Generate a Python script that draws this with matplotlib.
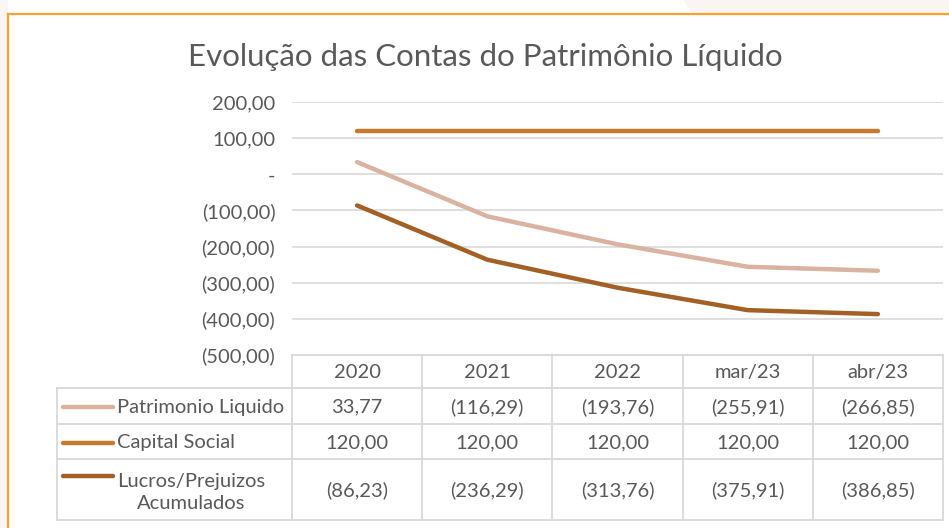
import matplotlib
matplotlib.use('Agg')
import matplotlib.pyplot as plt
from matplotlib.patches import Polygon, Rectangle

# dados do gráfico
periodos = ['2020', '2021', '2022', 'mar/23', 'abr/23']
patrimonio = [33.77, -116.29, -193.76, -255.91, -266.85]
capital = [120.00, 120.00, 120.00, 120.00, 120.00]
lucros = [-86.23, -236.29, -313.76, -375.91, -386.85]
nomes = ['Patrimonio Liquido', 'Capital Social', 'Lucros/Prejuizos\nAcumulados']
cores = ['#D9B3A0', '#C57A30', '#A25F26']
y_ticks = [200, 100, 0, -100, -200, -300, -400, -500]

texto = '#595959'
grade = '#D9D9D9'
plt.rcParams['font.family'] = ['Lato', 'DejaVu Sans']

W, H = 949, 528


def fmt(v):
    if v == 0:
        return '-'
    s = f'{abs(v):,.2f}'.replace(',', 'X').replace('.', ',').replace('X', '.')
    return f'({s})' if v < 0 else s


def fx(px):
    return px / W


def fy(py):
    return 1 - py / H


fig = plt.figure(figsize=(W / 100, H / 100), dpi=100)

# fundo claro fora da moldura
fig.patches.append(Rectangle((0, 0), fx(8), 1, transform=fig.transFigure,
                             facecolor='#FAF6F3', edgecolor='none'))
fig.patches.append(Polygon([(fx(684), 1), (1, 1), (1, fy(14)), (fx(692), fy(14))],
                           closed=True, transform=fig.transFigure,
                           facecolor='#F9F5F2', edgecolor='none'))
# moldura laranja
fig.lines.append(plt.Line2D([fx(8), 1], [fy(14), fy(14)], transform=fig.transFigure,
                            color='#F5A332', lw=1.6))
fig.lines.append(plt.Line2D([fx(8), fx(8)], [fy(14), 0], transform=fig.transFigure,
                            color='#F5A332', lw=1.6))

fig.text(fx(485), fy(57), 'Evolução das Contas do Patrimônio Líquido', ha='center',
         va='center', fontsize=22.5, color=texto)

# gráfico de linhas
x_left, x_right, y_top, y_bot = 292, 943, 102, 355
ax = fig.add_axes([fx(x_left), fy(y_bot), fx(x_right - x_left), (y_bot - y_top) / H])
x = list(range(len(periodos)))
for serie, cor in zip([patrimonio, capital, lucros], cores):
    ax.plot(x, serie, color=cor, lw=3.2, solid_capstyle='round', zorder=3)
ax.set_xlim(-0.5, len(periodos) - 0.5)
ax.set_ylim(-500, 200)
ax.set_yticks(y_ticks)
ax.set_yticklabels([fmt(v) for v in y_ticks])
ax.set_xticks([])
ax.tick_params(axis='y', length=0, pad=12, labelsize=14.5, labelcolor=texto)
ax.grid(axis='y', color=grade, lw=1.2)
ax.set_axisbelow(True)
for s in ax.spines.values():
    s.set_visible(False)
ax.patch.set_alpha(0)

# tabela de dados
t_left, t_bot = 57, 520
linhas = [355, 388, 424, 459, 520]
col_unit = (x_right - x_left) / len(periodos)
x0 = -0.5 - (x_left - t_left) / col_unit
tx = fig.add_axes([fx(t_left), fy(t_bot), fx(x_right - t_left), (t_bot - y_bot) / H])
tx.set_xlim(x0, len(periodos) - 0.5)
tx.set_ylim(t_bot, y_bot)
tx.axis('off')

lw_t = 1.3
tx.plot([-0.5, len(periodos) - 0.5], [linhas[0]] * 2, color=grade, lw=lw_t, clip_on=False)
for yl in linhas[1:]:
    tx.plot([x0, len(periodos) - 0.5], [yl] * 2, color=grade, lw=lw_t, clip_on=False)
tx.plot([x0, x0], [linhas[1], linhas[-1]], color=grade, lw=lw_t, clip_on=False)
for k in range(len(periodos) + 1):
    tx.plot([k - 0.5] * 2, [linhas[0], linhas[-1]], color=grade, lw=lw_t, clip_on=False)

fs = 14.5
for i, p in enumerate(periodos):
    tx.text(i, (linhas[0] + linhas[1]) / 2 + 1, p, ha='center', va='center', fontsize=fs, color=texto)

px_unit = 1 / col_unit
for r, (nome, serie, cor) in enumerate(zip(nomes, [patrimonio, capital, lucros], cores)):
    yc = (linhas[r + 1] + linhas[r + 2]) / 2 + 1
    y_leg = yc if r < 2 else linhas[r + 1] + 17
    tx.plot([x0 + 6 * px_unit, x0 + 56 * px_unit], [y_leg, y_leg], color=cor, lw=3.2,
            solid_capstyle='round', clip_on=False)
    tx.text(x0 + 60 * px_unit, yc + (2 if r == 2 else 0), nome, ha='left', va='center',
            fontsize=fs, color=texto, multialignment='center', linespacing=1.3)
    for i, v in enumerate(serie):
        tx.text(i, yc, fmt(v), ha='center', va='center', fontsize=fs, color=texto)

fig.savefig('out.png', dpi=100, facecolor='white')
